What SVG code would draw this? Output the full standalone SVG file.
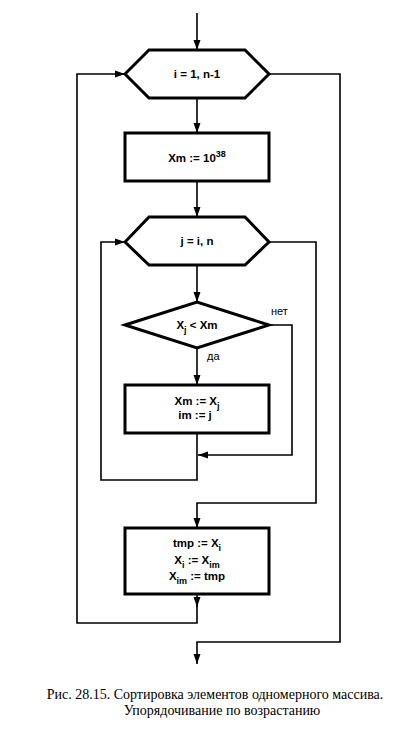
<svg xmlns="http://www.w3.org/2000/svg" width="405" height="735" viewBox="0 0 405 735">
<defs>
<marker id="arr" markerWidth="10" markerHeight="8" refX="10" refY="4" orient="auto" markerUnits="userSpaceOnUse"><path d="M0,0.5 L10,4 L0,7.5 Z" fill="#000"/></marker>
</defs>
<style>
.box{fill:#fff;stroke:#000;stroke-width:3;stroke-linejoin:miter}
.line{fill:none;stroke:#000;stroke-width:1.6}
.t{font-family:"Liberation Sans",Arial,sans-serif;font-size:11.5px;font-weight:bold;text-anchor:middle;fill:#000}
.lbl{font-family:"Liberation Sans",Arial,sans-serif;font-size:11px;fill:#000}
.cap{font-family:"Liberation Serif","Times New Roman",serif;font-size:14px;text-anchor:middle;fill:#000}
</style>
<rect width="405" height="735" fill="#fff"/>
<g id="connectors">
<path class="line" d="M197,13 V50" marker-end="url(#arr)"/>
<path class="line" d="M197,98 V133" marker-end="url(#arr)"/>
<path class="line" d="M197,181 V217" marker-end="url(#arr)"/>
<path class="line" d="M197,265 V302" marker-end="url(#arr)"/>
<path class="line" d="M197,348 V385" marker-end="url(#arr)"/>
<path class="line" d="M269,325 H292 V455 H198" marker-end="url(#arr)"/>
<path class="line" d="M197,433 V480 H101 V242 H125" marker-end="url(#arr)"/>
<path class="line" d="M269,242 H316 V503 H197 V528" marker-end="url(#arr)"/>
<path class="line" d="M197,594 V607" marker-end="url(#arr)"/>
<path class="line" d="M197,604 V623 H77 V74 H125" marker-end="url(#arr)"/>
<path class="line" d="M269,74 H340 V642 H197 V664" marker-end="url(#arr)"/>
<text class="lbl" x="271" y="315">нет</text>
<text class="lbl" x="207" y="360">да</text>
</g>
<g id="loop-i">
<polygon class="box" points="125,74 149,50 245,50 269,74 245,98 149,98"/>
<text class="t" x="197" y="78">i = 1, n-1</text>
</g>
<g id="init-xm">
<rect class="box" x="125" y="133" width="144" height="48"/>
<text class="t" x="197" y="162">Xm := 10<tspan dy="-5" font-size="9">38</tspan></text>
</g>
<g id="loop-j">
<polygon class="box" points="125,242 149,217 245,217 269,242 245,265 149,265"/>
<text class="t" x="197" y="245">j = i, n</text>
</g>
<g id="cond">
<polygon class="box" points="125,325 197,302 269,325 197,348"/>
<text class="t" x="197" y="329">X<tspan dy="4" font-size="9">j</tspan><tspan dy="-4"> &lt; Xm</tspan></text>
</g>
<g id="assign-min">
<rect class="box" x="125" y="385" width="144" height="48"/>
<text class="t" x="197" y="405">Xm := X<tspan dy="4" font-size="9">j</tspan></text>
<text class="t" x="195" y="419">im := j</text>
</g>
<g id="swap">
<rect class="box" x="125" y="528" width="144" height="66"/>
<text class="t" x="197" y="547">tmp := X<tspan dy="4" font-size="9">i</tspan></text>
<text class="t" x="197" y="564">X<tspan dy="4" font-size="9">i</tspan><tspan dy="-4"> := X</tspan><tspan dy="4" font-size="9">im</tspan></text>
<text class="t" x="197" y="580">X<tspan dy="4" font-size="9">im</tspan><tspan dy="-4"> := tmp</tspan></text>
</g>
<g id="caption">
<text class="cap" x="215" y="699">Рис. 28.15. Сортировка элементов одномерного массива.</text>
<text class="cap" x="222" y="715">Упорядочивание по возрастанию</text>
</g>
</svg>
